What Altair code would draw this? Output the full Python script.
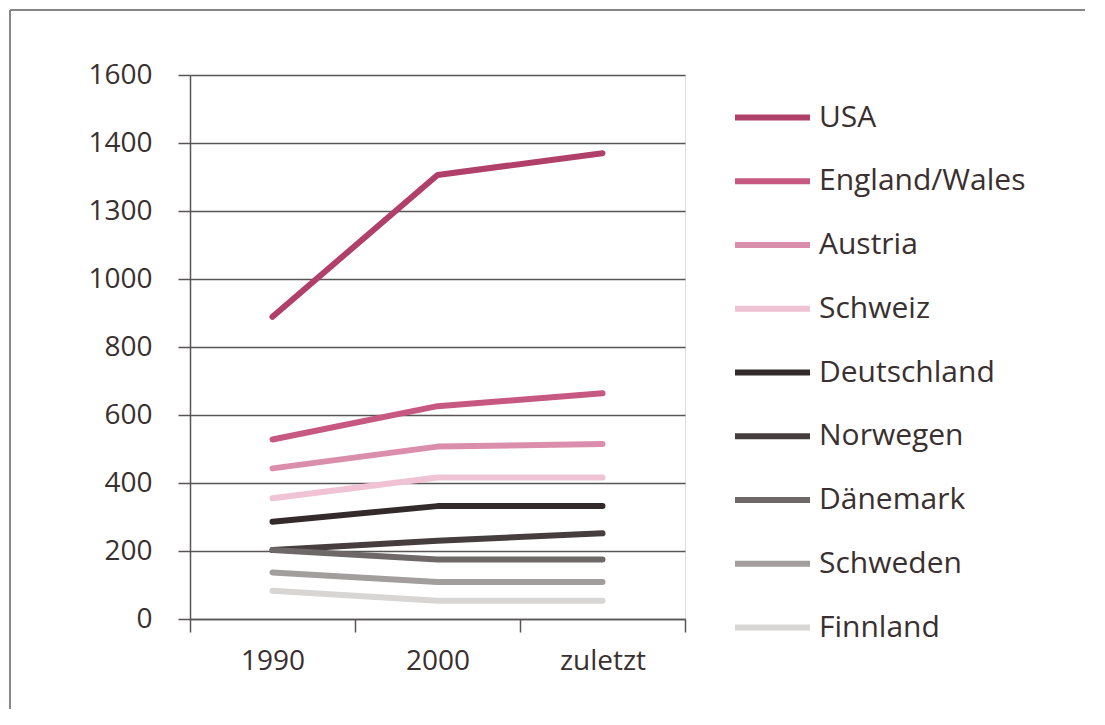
import altair as alt
import pandas as pd

periods = ["1990", "2000", "zuletzt"]
countries = ["USA", "England/Wales", "Austria", "Schweiz", "Deutschland",
             "Norwegen", "Dänemark", "Schweden", "Finnland"]
usa = [889, 1306, 1370]
england_wales = [528, 626, 664]
austria = [443, 507, 515]
schweiz = [355, 416, 416]
deutschland = [286, 332, 332]
norwegen = [203, 230, 252]
daenemark = [203, 175, 175]
schweden = [137, 109, 109]
finnland = [83, 54, 54]
colors = ["#b0406a", "#c65882", "#db8eab", "#efc3d3", "#332b2b",
          "#463e3e", "#6e6868", "#a39e9e", "#d8d5d5"]
y_ticks = [0, 200, 400, 600, 800, 1000, 1200, 1400, 1600]

series = [usa, england_wales, austria, schweiz, deutschland,
          norwegen, daenemark, schweden, finnland]
rows = []
for c, vals in zip(countries, series):
    for p, v in zip(periods, vals):
        rows.append({"Land": c, "Periode": p, "Wert": v})
df = pd.DataFrame(rows)

FONT = "Open Sans"
TXT = "#3a3030"
GRID = "#5a5555"

lines = alt.Chart(df).mark_line(strokeWidth=6, strokeCap="round", strokeJoin="round").encode(
    x=alt.X("Periode:N", sort=periods,
            scale=alt.Scale(paddingInner=0, paddingOuter=0),
            axis=alt.Axis(title=None, labelAngle=0, tickBand="extent", grid=False,
                          tickSize=13, tickColor=GRID, tickWidth=1.5,
                          domainColor=GRID, domainWidth=1.5,
                          labelPadding=15, labelFontSize=28, labelFont=FONT,
                          labelColor=TXT)),
    y=alt.Y("Wert:Q", scale=alt.Scale(domain=[0, 1600], nice=False),
            axis=alt.Axis(title=None, values=y_ticks, grid=True, gridColor=GRID,
                          gridWidth=1.5, tickSize=12, tickColor=GRID, tickWidth=1.5,
                          domainColor=GRID, domainWidth=1.5, format="d",
                          labelExpr="datum.value == 1200 ? '1300' : datum.label",
                          labelPadding=26, labelFontSize=28, labelFont=FONT,
                          labelColor=TXT)),
    color=alt.Color("Land:N", sort=countries,
                    scale=alt.Scale(domain=countries, range=colors),
                    legend=alt.Legend(title=None, orient="none", legendX=542, legendY=2,
                                      symbolType="stroke", symbolSize=5625,
                                      symbolStrokeWidth=6, labelFontSize=30,
                                      labelFont=FONT, labelColor=TXT, labelOffset=6,
                                      rowPadding=7.75, padding=0, labelLimit=400)),
    order=alt.Order("Periode:N"),
)

frame_top = alt.Chart(df).mark_rule(color="#8a8585", strokeWidth=1.5).encode(
    x=alt.value(-180), x2=alt.value(905), y=alt.value(-65))
frame_left = alt.Chart(df).mark_rule(color="#8a8585", strokeWidth=1.5).encode(
    x=alt.value(-180), y=alt.value(-65), y2=alt.value(640))

chart = alt.layer(frame_top, frame_left, lines).properties(
    width=495, height=544,
    autosize=alt.AutoSizeParams(type="none"),
    padding={"left": 182, "top": 67, "right": 400, "bottom": 90},
).configure_view(stroke=None).configure(font=FONT)

chart.save("out.html", embed_options={"renderer": "svg", "actions": False})
